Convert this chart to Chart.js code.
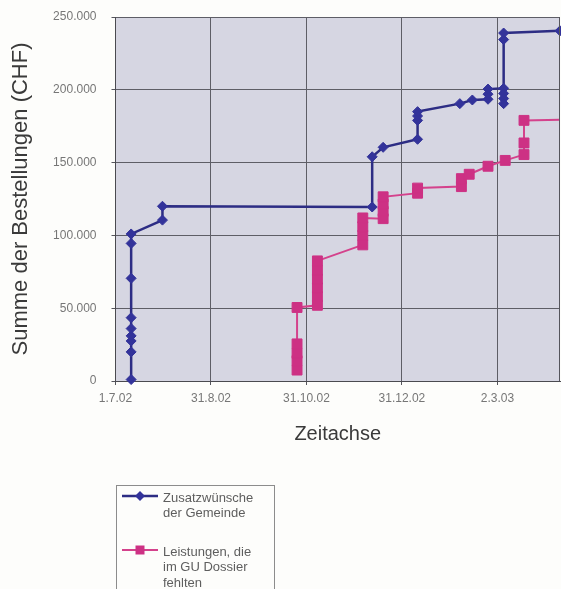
<!DOCTYPE html>
<html>
<head>
<meta charset="utf-8">
<script src="https://cdn.jsdelivr.net/npm/chart.js@4/dist/chart.umd.min.js"></script>
<style>
  html, body { margin: 0; padding: 0; background: #fdfdfb; }
  #wrap { position: relative; width: 561px; height: 589px; }
</style>
</head>
<body>
<div id="wrap"><canvas id="c" width="561" height="589"></canvas></div>
<script>
// Axis ticks (dates are d.m.yy) and the visible date range
const xTickLabels = ['1.7.02', '31.8.02', '31.10.02', '31.12.02', '2.3.03'];
const axisStart = '1.7.02';
const axisEnd = '11.4.03';
const yMax = 250000;
const yStep = 50000;

// Legend text, one array entry per line
const legendLines = [
  ['Zusatzwünsche', 'der Gemeinde'],
  ['Leistungen, die', 'im GU Dossier', 'fehlten']
];

// Series 1: Zusatzwünsche der Gemeinde (cumulative CHF)
const gemeindeDates = [
  '11.7.02', '11.7.02', '11.7.02', '11.7.02', '11.7.02', '11.7.02', '11.7.02', '11.7.02', '11.7.02',
  '31.7.02', '31.7.02',
  '12.12.02', '12.12.02', '19.12.02',
  '10.1.03', '10.1.03', '10.1.03', '10.1.03',
  '6.2.03', '14.2.03',
  '24.2.03', '24.2.03', '24.2.03',
  '6.3.03', '6.3.03', '6.3.03', '6.3.03', '6.3.03', '6.3.03',
  '11.4.03'
];
const gemeindeValues = [
  1000, 20000, 27500, 31000, 36000, 43500, 70500, 94500, 101000,
  110500, 120000,
  119500, 154000, 160500,
  166000, 179000, 182000, 185000,
  190500, 193000,
  193500, 197000, 200500,
  201000, 197500, 194000, 190500, 234500, 239000,
  240500
];

// Series 2: Leistungen, die im GU Dossier fehlten (cumulative CHF)
const dossierDates = [
  '25.10.02', '25.10.02', '25.10.02', '25.10.02', '25.10.02',
  '7.11.02', '7.11.02', '7.11.02', '7.11.02', '7.11.02', '7.11.02',
  '6.12.02', '6.12.02', '6.12.02', '6.12.02',
  '19.12.02', '19.12.02', '19.12.02', '19.12.02',
  '10.1.03', '10.1.03',
  '7.2.03', '7.2.03', '12.2.03', '24.2.03', '7.3.03',
  '19.3.03', '19.3.03', '19.3.03',
  '20.4.03'
];
const dossierValues = [
  7500, 14000, 19000, 25500, 50500,
  52000, 58000, 64000, 70000, 76000, 82500,
  93500, 100000, 106000, 112000,
  111500, 116500, 121500, 126500,
  129000, 132500,
  133500, 139000, 142000, 147500, 151500,
  155500, 163500, 179000,
  179500
];

// Days since the axis start for a d.m.yy date string
function dayUTC(s) {
  const [d, m, y] = s.split('.').map(Number);
  return Date.UTC(2000 + y, m - 1, d);
}
function dayOf(s) {
  return (dayUTC(s) - dayUTC(axisStart)) / 86400000;
}
function toPoints(dates, values) {
  return dates.map((d, i) => ({ x: dayOf(d), y: values[i] }));
}
function thousands(v) {
  return String(v).replace(/\B(?=(\d{3})+(?!\d))/g, '.');
}

const FONT = '"Liberation Sans", Arial, Helvetica, sans-serif';

// Plot background, page background and right frame line
const backdrop = {
  id: 'backdrop',
  beforeDraw(chart) {
    const { ctx, chartArea: a } = chart;
    ctx.save();
    ctx.fillStyle = '#fdfdfb';
    ctx.fillRect(0, 0, chart.width, chart.height);
    ctx.fillStyle = '#d6d6e2';
    ctx.fillRect(a.left, a.top, a.right - a.left, a.bottom - a.top);
    ctx.restore();
  },
  afterDatasetsDraw(chart) {
    const { ctx, chartArea: a } = chart;
    ctx.save();
    ctx.strokeStyle = '#55555c';
    ctx.lineWidth = 1;
    ctx.beginPath();
    ctx.moveTo(Math.round(a.right) - 0.5, a.top);
    ctx.lineTo(Math.round(a.right) - 0.5, a.bottom);
    ctx.stroke();
    ctx.restore();
  }
};

// Boxed legend below the plot with wrapped labels
const boxLegend = {
  id: 'boxLegend',
  afterDraw(chart) {
    const ctx = chart.ctx;
    ctx.save();
    ctx.strokeStyle = '#8c8c8c';
    ctx.lineWidth = 1;
    ctx.strokeRect(116.5, 485.5, 158, 130);
    const rows = [496, 550];
    chart.data.datasets.forEach((ds, i) => {
      const y = rows[i];
      ctx.strokeStyle = ds.borderColor;
      ctx.lineWidth = ds.borderWidth;
      ctx.beginPath();
      ctx.moveTo(122, y);
      ctx.lineTo(158, y);
      ctx.stroke();
      ctx.fillStyle = ds.pointBackgroundColor;
      ctx.beginPath();
      if (ds.pointStyle === 'rectRot') {
        const r = 5;
        ctx.moveTo(140 - r, y);
        ctx.lineTo(140, y - r);
        ctx.lineTo(140 + r, y);
        ctx.lineTo(140, y + r);
        ctx.closePath();
      } else {
        ctx.rect(135.5, y - 4.5, 9, 9);
      }
      ctx.fill();
      ctx.fillStyle = '#5e5e5e';
      ctx.font = '13px ' + FONT;
      ctx.textBaseline = 'middle';
      ctx.textAlign = 'left';
      legendLines[i].forEach((t, k) => ctx.fillText(t, 163, y + 2 + k * 15.5));
    });
    ctx.restore();
  }
};

new Chart(document.getElementById('c'), {
  type: 'line',
  data: {
    datasets: [
      {
        label: legendLines[0].join(' '),
        data: toPoints(gemeindeDates, gemeindeValues),
        borderColor: '#2d2d84',
        borderWidth: 2.5,
        pointStyle: 'rectRot',
        pointRadius: 5,
        pointBackgroundColor: '#33339a',
        pointBorderColor: '#33339a',
        pointBorderWidth: 1,
        tension: 0,
        clip: 10
      },
      {
        label: legendLines[1].join(' '),
        data: toPoints(dossierDates, dossierValues),
        borderColor: '#d4428c',
        borderWidth: 2,
        pointStyle: 'rect',
        pointRadius: 7,
        pointBackgroundColor: '#cd3184',
        pointBorderColor: '#cd3184',
        pointBorderWidth: 1,
        tension: 0,
        clip: { left: 10, top: 10, right: 0, bottom: 10 }
      }
    ]
  },
  options: {
    responsive: false,
    devicePixelRatio: 1,
    animation: false,
    layout: { autoPadding: false, padding: { top: 17, right: 1, left: 0, bottom: 0 } },
    plugins: { legend: { display: false }, tooltip: { enabled: false } },
    scales: {
      x: {
        type: 'linear',
        min: dayOf(axisStart),
        max: dayOf(axisEnd),
        afterBuildTicks: s => { s.ticks = xTickLabels.map(l => ({ value: dayOf(l) })); },
        afterFit: s => { s.height = 208; s.paddingLeft = 0; s.paddingRight = 0; },
        ticks: {
          autoSkip: false,
          maxRotation: 0,
          padding: 6,
          color: '#767676',
          font: { family: FONT, size: 12 },
          callback: (v) => {
            const l = xTickLabels.find(t => dayOf(t) === v);
            return l === undefined ? '' : l;
          }
        },
        grid: { color: '#5e5e66', lineWidth: 1, tickLength: 4, tickColor: '#55555c' },
        border: { color: '#4a4a50', width: 1 },
        title: {
          display: true,
          text: 'Zeitachse',
          color: '#3a3a3a',
          font: { family: FONT, size: 20 },
          padding: { top: 0, bottom: 143 }
        }
      },
      y: {
        min: 0,
        max: yMax,
        afterFit: s => { s.width = 115.5; s.paddingTop = 0; s.paddingBottom = 0; },
        ticks: {
          stepSize: yStep,
          padding: 15,
          color: '#767676',
          font: { family: FONT, size: 12 },
          callback: v => thousands(v)
        },
        grid: { color: '#5e5e66', lineWidth: 1, tickLength: 4, tickColor: '#55555c' },
        border: { color: '#4a4a50', width: 1 },
        title: {
          display: true,
          text: 'Summe der Bestellungen (CHF)',
          color: '#3a3a3a',
          font: { family: FONT, size: 22 },
          padding: { top: 8, bottom: 0 }
        }
      }
    }
  },
  plugins: [backdrop, boxLegend]
});
</script>
</body>
</html>
